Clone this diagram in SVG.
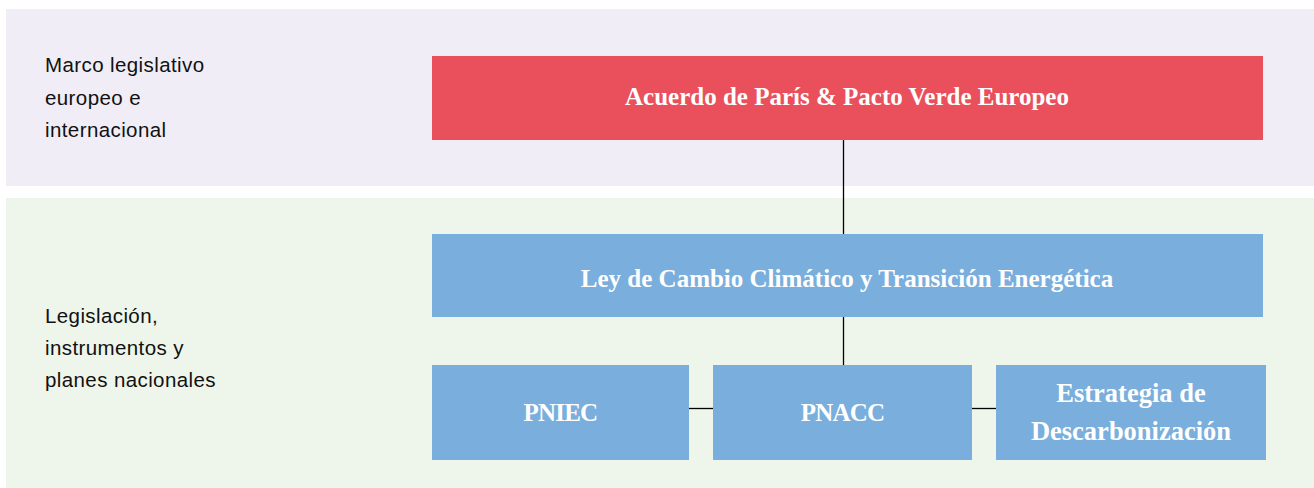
<svg xmlns="http://www.w3.org/2000/svg" width="1314" height="488" viewBox="0 0 1314 488">
  <style>
    .band-top { fill: #f0edf7; }
    .band-bot { fill: #eef5ea; }
    .red { fill: #e9505b; }
    .blue { fill: #7aaedc; }
    .lbl { font-family: "Liberation Sans", Arial, sans-serif; font-size: 20.5px; fill: #111111; letter-spacing: 0.4px; }
    .ttl { font-family: "Liberation Serif", "Times New Roman", serif; font-weight: bold; font-size: 25px; fill: #ffffff; text-anchor: middle; }
    .ttl.big { font-size: 26.5px; }
    .conn { stroke: #000000; stroke-width: 1.3; fill: none; }
  </style>
  <rect class="band-top" x="6" y="9" width="1308" height="177"/>
  <rect class="band-bot" x="6" y="198" width="1308" height="290"/>
  <g id="label-top">
    <text class="lbl" x="45" y="72">Marco legislativo</text>
    <text class="lbl" x="45" y="104.5">europeo e</text>
    <text class="lbl" x="45" y="137">internacional</text>
  </g>
  <g id="label-bottom">
    <text class="lbl" x="45" y="323">Legislación,</text>
    <text class="lbl" x="45" y="355">instrumentos y</text>
    <text class="lbl" x="45" y="387">planes nacionales</text>
  </g>
  <g id="connectors">
    <line class="conn" x1="843.5" y1="140" x2="843.5" y2="234"/>
    <line class="conn" x1="843.5" y1="317" x2="843.5" y2="365"/>
    <line class="conn" x1="689" y1="408.5" x2="713" y2="408.5"/>
    <line class="conn" x1="972" y1="408.5" x2="996" y2="408.5"/>
  </g>
  <g id="node-paris">
    <rect class="red" x="432" y="56" width="831" height="84"/>
    <text class="ttl" x="847" y="105">Acuerdo de París &amp; Pacto Verde Europeo</text>
  </g>
  <g id="node-ley">
    <rect class="blue" x="432" y="234" width="831" height="83"/>
    <text class="ttl" x="847" y="287">Ley de Cambio Climático y Transición Energética</text>
  </g>
  <g id="node-pniec">
    <rect class="blue" x="432" y="365" width="257" height="95"/>
    <text class="ttl" x="560.5" y="421" letter-spacing="-0.8">PNIEC</text>
  </g>
  <g id="node-pnacc">
    <rect class="blue" x="713" y="365" width="259" height="95"/>
    <text class="ttl" x="842.5" y="421" letter-spacing="-0.8">PNACC</text>
  </g>
  <g id="node-estrategia">
    <rect class="blue" x="996" y="365" width="270" height="95"/>
    <text class="ttl big" x="1131" y="402">Estrategia de</text>
    <text class="ttl big" x="1131" y="440">Descarbonización</text>
  </g>
</svg>
